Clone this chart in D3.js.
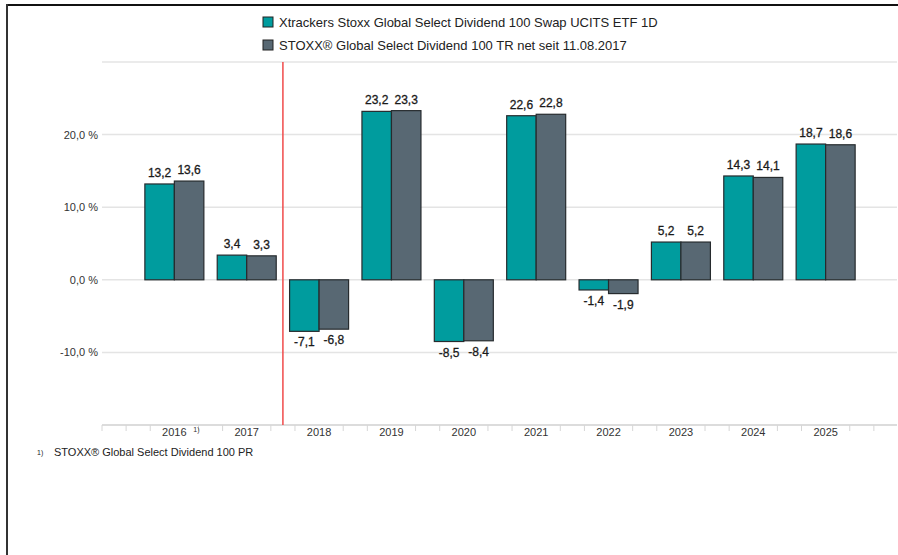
<!DOCTYPE html>
<html>
<head>
<meta charset="utf-8">
<script src="https://cdn.jsdelivr.net/npm/d3@7"></script>
<style>
  body { margin: 0; background: #fff; }
  svg { display: block; font-family: "Liberation Sans", Arial, sans-serif; }
</style>
</head>
<body>
<div class="container"></div>
<script>
var years = [2016, 2017, 2018, 2019, 2020, 2021, 2022, 2023, 2024, 2025];
var fundValues = [13.2, 3.4, -7.1, 23.2, -8.5, 22.6, -1.4, 5.2, 14.3, 18.7];
var indexValues = [13.6, 3.3, -6.8, 23.3, -8.4, 22.8, -1.9, 5.2, 14.1, 18.6];
var yTicks = [-10, 0, 10, 20];
var gridValues = [-10, 0, 10, 20, 30];
var seriesNames = [
    "Xtrackers Stoxx Global Select Dividend 100 Swap UCITS ETF 1D",
    "STOXX® Global Select Dividend 100 TR net seit 11.08.2017"
];
var seriesColors = ["#009c9e", "#586873"];
var footnote = "STOXX® Global Select Dividend 100 PR";
var markerYear = 2017.5;

var width = 898, height = 555;
var barWidth = 29.5;

var svg = d3.select('.container')
    .append('svg')
    .attr('width', width)
    .attr('height', height);

var x = d3.scaleLinear().domain([2015, 2026]).range([102, 898]);
var y = d3.scaleLinear().domain([-20, 30]).range([425, 62]);

function fmt(v) {
    return d3.format(".1f")(v).replace('.', ',').replace('−', '-');
}

// frame
svg.append('line').attr('x1', 6).attr('x2', width).attr('y1', 5).attr('y2', 5)
    .attr('stroke', '#111').attr('stroke-width', 2);
svg.append('line').attr('x1', 7).attr('x2', 7).attr('y1', 4).attr('y2', height)
    .attr('stroke', '#333').attr('stroke-width', 2);

// grid
svg.append('g').selectAll('line')
    .data(gridValues)
    .enter().append('line')
    .attr('x1', 102).attr('x2', 897)
    .attr('y1', function (d) { return y(d); })
    .attr('y2', function (d) { return y(d); })
    .attr('stroke', '#e4e4e4')
    .attr('stroke-width', 1.5);

// y labels
svg.append('g').selectAll('text')
    .data(yTicks)
    .enter().append('text')
    .attr('x', 98)
    .attr('y', function (d) { return y(d) + 4; })
    .attr('text-anchor', 'end')
    .attr('font-size', '11px')
    .attr('fill', '#333')
    .text(function (d) { return fmt(d) + ' %'; });

// x axis line + minor ticks
svg.append('line').attr('x1', 102).attr('x2', 897)
    .attr('y1', y(-20)).attr('y2', y(-20))
    .attr('stroke', '#dcdcdc').attr('stroke-width', 2);

var tickPos = d3.range(0, 34).map(function (i) { return 2015 + i / 3; })
    .filter(function (t, i) { return i % 3 != 0 || i == 0; });
svg.append('g').selectAll('line')
    .data(tickPos)
    .enter().append('line')
    .attr('x1', function (d) { return x(d); })
    .attr('x2', function (d) { return x(d); })
    .attr('y1', y(-20))
    .attr('y2', y(-20) + 6)
    .attr('stroke', '#d6d6d6')
    .attr('stroke-width', 1);

svg.append('g').selectAll('text')
    .data(years)
    .enter().append('text')
    .attr('x', function (d) { return x(d); })
    .attr('y', 436)
    .attr('text-anchor', 'middle')
    .attr('font-size', '11px')
    .attr('fill', '#333')
    .text(function (d) { return d; });

svg.append('text')
    .attr('x', x(2016) + 19).attr('y', 432)
    .attr('font-size', '7px').attr('fill', '#333')
    .text('1)');

// bars
var pairs = years.map(function (yr, i) {
    return { year: yr, values: [fundValues[i], indexValues[i]] };
});

var groups = svg.append('g').selectAll('g')
    .data(pairs)
    .enter().append('g');

groups.each(function (p) {
    var g = d3.select(this);
    p.values.forEach(function (v, k) {
        var bx = x(p.year) - barWidth + k * barWidth;
        g.append('rect')
            .attr('x', bx)
            .attr('y', y(Math.max(0, v)))
            .attr('width', barWidth)
            .attr('height', Math.abs(y(v) - y(0)))
            .attr('fill', seriesColors[k])
            .attr('stroke', '#262b2e')
            .attr('stroke-width', 1.2);
        g.append('text')
            .attr('x', bx + barWidth / 2)
            .attr('y', v >= 0 ? y(v) - 7 : y(v) + 15)
            .attr('text-anchor', 'middle')
            .attr('font-size', '12px')
            .attr('fill', '#1a1a1a')
            .attr('stroke', '#1a1a1a')
            .attr('stroke-width', 0.3)
            .text(fmt(v));
    });
});

// red marker line
svg.append('line')
    .attr('x1', x(markerYear)).attr('x2', x(markerYear))
    .attr('y1', y(30)).attr('y2', y(-20))
    .attr('stroke', '#f04a4a').attr('stroke-width', 1.5);

// legend
var legend = svg.append('g').selectAll('g')
    .data(seriesNames)
    .enter().append('g')
    .attr('transform', function (d, i) { return 'translate(263,' + (17 + i * 23) + ')'; });
legend.append('rect')
    .attr('width', 10).attr('height', 10)
    .attr('fill', function (d, i) { return seriesColors[i]; })
    .attr('stroke', '#222').attr('stroke-width', 1);
legend.append('text')
    .attr('x', 16).attr('y', 10)
    .attr('font-size', '13px')
    .attr('fill', '#222')
    .text(function (d) { return d; });

// footnote
svg.append('text').attr('x', 37).attr('y', 455)
    .attr('font-size', '7px').attr('fill', '#222').text('1)');
svg.append('text').attr('x', 54).attr('y', 456)
    .attr('font-size', '11px').attr('fill', '#222').text(footnote);
</script>
</body>
</html>
